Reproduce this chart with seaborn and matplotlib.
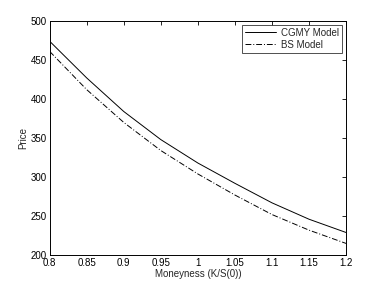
import numpy as np
import matplotlib
matplotlib.use("Agg")
import matplotlib.pyplot as plt
import seaborn as sns
import pandas as pd

# valores
moneyness = [0.8, 0.85, 0.9, 0.95, 1.0, 1.05, 1.1, 1.15, 1.2]
cgmy_price = [474, 427, 384, 348, 318, 292, 267, 246, 229]
bs_price = [461, 412, 370, 334, 304, 277, 252, 232, 215]

df = pd.DataFrame({"Moneyness": moneyness * 2,
                   "Price": cgmy_price + bs_price,
                   "Model": ["CGMY Model"] * len(moneyness) + ["BS Model"] * len(moneyness)})

sns.set_style("white")
plt.rcParams["font.family"] = ["Liberation Sans", "DejaVu Sans"]

fig = plt.figure(figsize=(3.82, 2.87), dpi=100)
ax = fig.add_axes([0.13, 0.111, 0.776, 0.816])

sns.lineplot(data=df, x="Moneyness", y="Price", hue="Model", style="Model",
             palette=["black", "black"], dashes=[(None, None), (6, 2, 1, 2)],
             linewidth=0.7, ax=ax)

ax.set_xlim(0.8, 1.2)
ax.set_ylim(200, 500)
ax.set_xticks([0.8, 0.85, 0.9, 0.95, 1, 1.05, 1.1, 1.15, 1.2])
ax.set_xticklabels(["0.8", "0.85", "0.9", "0.95", "1", "1.05", "1.1", "1.15", "1.2"])
ax.set_yticks([200, 250, 300, 350, 400, 450, 500])
ax.tick_params(direction="in", top=True, right=True, length=3, width=0.6,
               labelsize=7, pad=2, colors="black")
for s in ax.spines.values():
    s.set_color("black")
    s.set_linewidth(0.7)
ax.set_xlabel("Moneyness (K/S(0))", fontsize=7, labelpad=1)
ax.set_ylabel("Price", fontsize=7, labelpad=2)

leg = ax.legend(loc="upper right", fontsize=7, frameon=True, fancybox=False,
                borderaxespad=0.4, handlelength=3.2, labelspacing=0.2,
                borderpad=0.3, handletextpad=0.5)
leg.get_frame().set_edgecolor("black")
leg.get_frame().set_linewidth(0.6)

fig.savefig("out.png", dpi=100)
